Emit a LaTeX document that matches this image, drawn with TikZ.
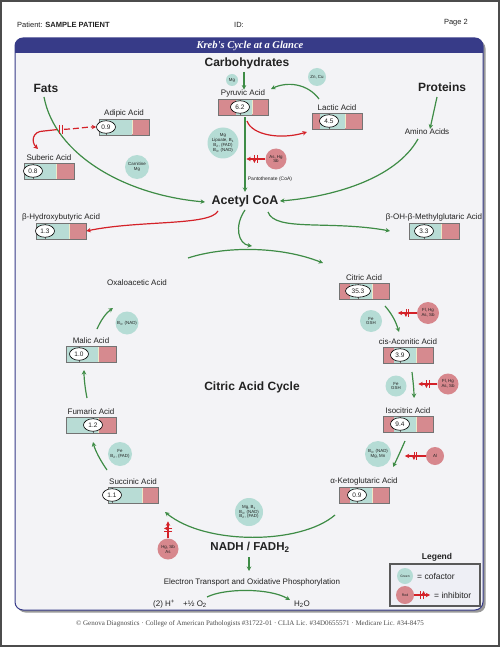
\documentclass[tikz,border=0pt]{standalone}
\usepackage{fontspec}
\setmainfont{Liberation Sans}
\newfontfamily\titlefont{Liberation Serif}
\usetikzlibrary{arrows.meta,decorations.markings,shapes.geometric}
\definecolor{navy}{HTML}{373B88}
\definecolor{panel}{HTML}{F3F3F6}
\definecolor{cofc}{HTML}{B5DCD5}
\definecolor{tealb}{HTML}{B8DCD5}
\definecolor{pinkb}{HTML}{D68A8F}
\definecolor{inhcol}{HTML}{D7878D}
\definecolor{grn}{HTML}{3E8C46}
\definecolor{rd}{HTML}{D42128}
\definecolor{txt}{HTML}{222222}
\definecolor{divl}{HTML}{EDE9C8}
\definecolor{legbg}{HTML}{EEEFF5}
\tikzset{
  lab/.style={font=\fontsize{8}{9}\selectfont, text=txt, inner sep=0pt},
  head/.style={font=\bfseries\fontsize{12}{14}\selectfont, text=txt, inner sep=0pt},
  small/.style={font=\fontsize{5}{6}\selectfont, text=txt, inner sep=0pt},
  cof/.style={circle, fill=cofc, inner sep=0pt, align=center, font=\fontsize{4.4}{4.9}\selectfont, text=txt},
  inhc/.style={circle, fill=inhcol, inner sep=0pt, align=center, font=\fontsize{4.4}{4.9}\selectfont, text=txt},
  garrow/.style={draw=grn, line width=1.2pt, -{Stealth[length=4.5pt,width=4.5pt]}},
  rarrow/.style={draw=rd, line width=1.2pt, -{Stealth[length=4.5pt,width=4.5pt]}},
  inh/.style={rarrow, postaction={decorate}, decoration={markings, mark=at position 0.5 with {\draw[rd, line width=0.8pt] (-1.4pt,-4pt) -- (-1.4pt,4pt) (1.4pt,-4pt) -- (1.4pt,4pt);}}},
  oval/.style={ellipse, draw=black, line width=0.6pt, fill=white, minimum height=12.5pt, inner sep=0pt, font=\fontsize{6.5}{7}\selectfont, text=txt},
  boxl/.style={draw=black!55, line width=0.6pt, inner sep=0pt},
}
\newcommand{\acidbox}[9]{%
  \fill[pinkb] (#3,#4) rectangle (#3+50,#4+16);
  \fill[tealb] (#5,#4) rectangle (#6,#4+16);
  \draw[divl, line width=0.7pt] (#6,#4+0.5) -- (#6,#4+15.5);
  \draw[black!60, line width=0.5pt] (#7,#4) -- (#7,#4+16);
  \node[boxl, minimum width=50pt, minimum height=16pt] (#1b) at (#3+25,#4+8) {};
  \node[oval, minimum width=#9pt] (#1v) at (#7,#4+8) {#8};
  \node[lab] (#1) at (#3+25,#4-5.5) {#2};
}
\begin{document}
\begin{tikzpicture}[x=1pt,y=-1pt]
\useasboundingbox (0,0) rectangle (500,647);
\fill[white] (0,0) rectangle (500,647);
\draw[black!70, line width=1.5pt] (1,1) rectangle (499,646);

% page header
\node[anchor=west, font=\fontsize{7.5}{9}\selectfont, text=txt, inner sep=0pt] (pat) at (17,25) {Patient: \textbf{SAMPLE PATIENT}};
\node[anchor=west, font=\fontsize{7.5}{9}\selectfont, text=txt, inner sep=0pt] (idl) at (234,25) {ID:};
\node[anchor=east, font=\fontsize{7.5}{9}\selectfont, text=txt, inner sep=0pt] (page) at (468,23) {Page 2};

% panel
\fill[black!40, rounded corners=8pt] (17.5,40.5) rectangle (485.5,612.5);
\fill[panel, rounded corners=8pt] (15,38) rectangle (483,610);
\begin{scope}
  \clip[rounded corners=8pt] (15,38) rectangle (483,610);
  \fill[navy] (15,38) rectangle (483,53);
\end{scope}
\draw[navy, line width=1pt, rounded corners=8pt] (15,38) rectangle (483,610);
\node[font=\titlefont\bfseries\itshape\fontsize{10.5}{12}\selectfont, text=white, inner sep=0pt] (title) at (250,45.5) {Kreb's Cycle at a Glance};

% headings
\node[head] (carb) at (247,63) {Carbohydrates};
\node[head] (fats) at (46,88) {Fats};
\node[head] (prot) at (442,87) {Proteins};
\node[lab] (amino) at (427,132) {Amino Acids};
\node[head, font=\bfseries\fontsize{12.5}{14}\selectfont] (acetyl) at (245,201) {Acetyl CoA};
\node[head] (cac) at (252,387) {Citric Acid Cycle};
\node[lab] (oxa) at (137,283) {Oxaloacetic Acid};
\node[head, font=\bfseries\fontsize{11.5}{13}\selectfont] (nadh) at (250,547) {NADH / FADH\textsubscript{2}};
\node[lab] (etc) at (252,582) {Electron Transport and Oxidative Phosphorylation};
\node[lab, anchor=west] (hplus) at (153,604) {(2) H\textsuperscript{+}};
\node[lab, anchor=west] (otwo) at (183,604) {+½ O\textsubscript{2}};
\node[lab] (water) at (302,604) {H\textsubscript{2}O};
\node[small] (panto) at (270,179) {Pantothenate (CoA)};

% acid boxes
\acidbox{adip}{Adipic Acid}{99}{119}{99}{132}{106}{0.9}{19}
\acidbox{sub}{Suberic Acid}{24}{163}{24}{56}{33}{0.8}{19}
\acidbox{pyr}{Pyruvic Acid}{218}{99}{236}{252}{240}{6.2}{19}
\acidbox{lac}{Lactic Acid}{312}{113}{320}{345}{329}{4.5}{19}
\acidbox{bhb}{β-Hydroxybutyric Acid}{36}{223}{36}{69}{45}{1.3}{19}
\acidbox{hmg}{β-OH-β-Methylglutaric Acid}{409}{223}{409}{441}{424}{3.3}{19}
\acidbox{cit}{Citric Acid}{339}{283}{350}{372}{358}{35.3}{25}
\acidbox{cis}{cis-Aconitic Acid}{383}{347}{394}{416}{400}{3.9}{19}
\acidbox{iso}{Isocitric Acid}{383}{416}{394}{416}{400}{9.4}{19}
\acidbox{akg}{α-Ketoglutaric Acid}{339}{487}{350}{372}{357}{0.9}{19}
\acidbox{suc}{Succinic Acid}{108}{487}{108}{142}{112}{1.1}{19}
\acidbox{fum}{Fumaric Acid}{66}{417}{66}{98}{93}{1.2}{19}
\acidbox{mal}{Malic Acid}{66}{346}{66}{98}{79}{1.0}{19}

% cofactors
\node[cof, minimum size=12pt] (cmg) at (232,80) {Mg};
\node[cof, minimum size=18pt] (czn) at (317,77) {Zn, Cu};
\node[cof, minimum size=31pt] (cpyr) at (223,143) {Mg\\Lipoate, B\textsubscript{1}\\B\textsubscript{2}, (FAD)\\B\textsubscript{3}, (NAD)};
\node[cof, minimum size=24pt] (ccar) at (137,167) {Carnitine\\Mg};
\node[cof, minimum size=22pt] (cfe1) at (371,321) {Fe\\GSH};
\node[cof, minimum size=21pt] (cfe2) at (396,386) {Fe\\GSH};
\node[cof, minimum size=26pt] (cakg) at (378,454) {B\textsubscript{3}, (NAD)\\Mg, Mn};
\node[cof, minimum size=28pt] (csuc) at (249,512) {Mg, B\textsubscript{1}\\B\textsubscript{3}, (NAD)\\B\textsubscript{2}, (FAD)};
\node[cof, minimum size=24pt] (cfum) at (120,454) {Fe\\B\textsubscript{2}, (FAD)};
\node[cof, minimum size=23pt] (cmal) at (127,323) {B\textsubscript{3}, (NAD)};

% inhibitors
\node[inhc, minimum size=21pt] (ipyr) at (276,159) {As, Hg\\Sb};
\node[inhc, minimum size=22pt] (icit) at (428,313) {Fl, Hg\\As, Sb};
\node[inhc, minimum size=21pt] (icis) at (448,384) {Fl, Hg\\As, Sb};
\node[inhc, minimum size=18pt] (ial) at (435,456) {Al};
\node[inhc, minimum size=21pt] (isuc) at (168,549) {Hg, Sb\\As};
\draw[inh] (ipyr.west) -- ++(-19,0);
\draw[inh] (icit.west) -- ++(-19,0);
\draw[inh] (icis.west) -- ++(-19,0);
\draw[inh] (ial.west) -- ++(-21,0);
\draw[inh] (isuc.north) -- ++(0,-17);

% coordinates for free ends
\coordinate (f0) at (44,97);
\coordinate (a0) at (205,202);
\coordinate (am0) at (418,139);
\coordinate (a1) at (280,201);
\coordinate (lp0) at (319,99);
\coordinate (lp1) at (271,89);
\coordinate (pl0) at (247,121);
\coordinate (pl1) at (307,132);
\coordinate (rj) at (44,131);
\coordinate (rs) at (38,149);

% top section arrows
\draw[garrow, shorten <=3pt] ([xshift=-3pt]carb.south) -- ([xshift=1pt]pyr.north);
\draw[garrow] (lp0) .. controls (308,84) and (288,81) .. (lp1);
\draw[rarrow] (pl0) .. controls (252,135) and (280,140) .. (pl1);
\draw[garrow, shorten <=2pt, shorten >=3pt] (pyrb.south -| acetyl.north) -- (acetyl.north);
\draw[garrow] (f0) .. controls (55,155) and (125,195) .. (a0);
\draw[garrow] (am0) .. controls (395,180) and (330,197) .. (a1);
\draw[garrow] (437,97) -- (amino.north -| 430,0);

% red pieces near fats
\draw[rarrow] (rj) .. controls (32,131) and (31,142) .. (rs);
\draw[draw=rd, line width=1.2pt] (rj) -- (57,129.6);
\draw[rd, line width=0.8pt] (59,125) -- (59,134) (62,125) -- (62,134);
\draw[rarrow, dash pattern=on 6pt off 3pt] (64,129.3) .. controls (75,129) and (85,127) .. (adipv.west);

% acetyl outputs
\draw[rarrow] (218,211) .. controls (210,226) and (140,220) .. (bhbb.east |- 0,231);
\draw[garrow] (268,212) .. controls (275,232) and (330,220) .. (390,231);
\draw[garrow] (245,210) .. controls (234,226) and (238,244) .. (252,246);

% cycle
\draw[garrow] (188,258) .. controls (225,246) and (280,246) .. (323,263);
\draw[garrow] (385,306) .. controls (392,314) and (396,322) .. (399,332);
\draw[garrow] (412,372) .. controls (413,381) and (414,390) .. (414,398);
\draw[garrow] (405,441) .. controls (401,450) and (397,459) .. (393,467);
\draw[garrow] (335,515) .. controls (300,545) and (205,545) .. (165,512);
\draw[garrow] (107,470) .. controls (100,460) and (95,450) .. (93,442);
\draw[garrow] (87,398) .. controls (85,388) and (84,378) .. (84,370);
\draw[garrow] (97,329) .. controls (101,320) and (106,313) .. (113,308);

% bottom
\draw[garrow] (249,557) -- (249,571);
\draw[garrow] (207,597) .. controls (225,588) and (270,588) .. (290,600);

% legend
\node[font=\bfseries\fontsize{8.5}{10}\selectfont, text=txt, inner sep=0pt] (legt) at (437,557) {Legend};
\draw[black!65, line width=1.2pt, fill=legbg] (390,564) rectangle (480,606);
\node[cof, minimum size=16pt, font=\fontsize{3.3}{4}\selectfont] (lg) at (405,576) {Green};
\node[lab, anchor=west, font=\fontsize{8.5}{10}\selectfont] (lgt) at (417,576) {= cofactor};
\node[inhc, minimum size=18pt, font=\fontsize{3.5}{4}\selectfont] (lr) at (405,595) {Red};
\draw[inh] (lr.east) -- ++(16,0);
\node[lab, anchor=west, font=\fontsize{8.5}{10}\selectfont] (lrt) at (434,595) {= inhibitor};

% footer
\node[font=\titlefont\fontsize{7}{8}\selectfont, text=black!70, inner sep=0pt] (foot) at (250,624) {© Genova Diagnostics · College of American Pathologists \#31722-01 · CLIA Lic. \#34D0655571 · Medicare Lic. \#34-8475};
\end{tikzpicture}
\end{document}
